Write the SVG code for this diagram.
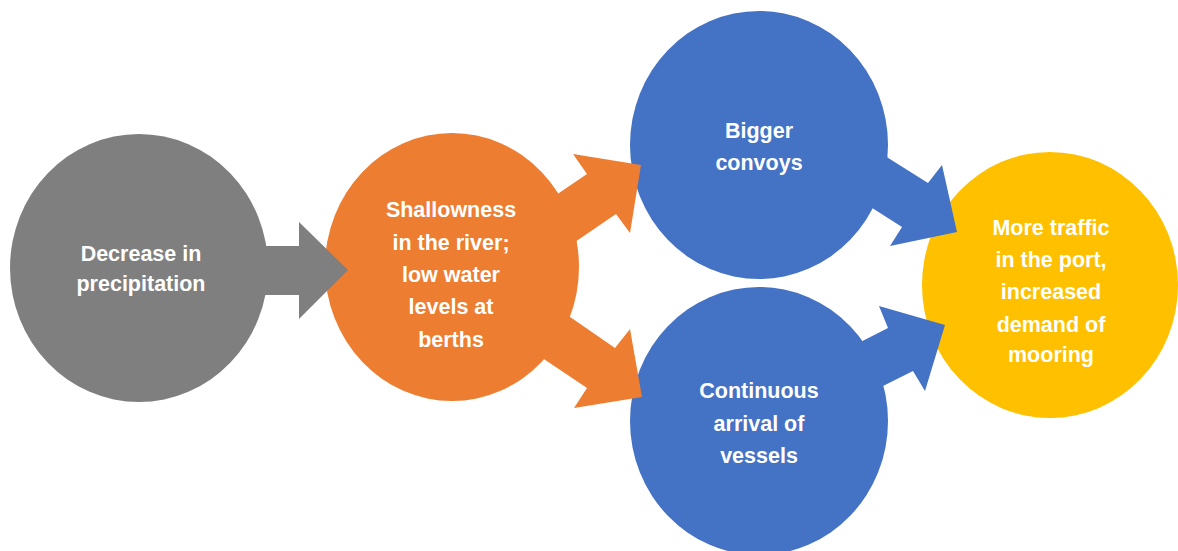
<svg xmlns="http://www.w3.org/2000/svg" width="1178" height="551" viewBox="0 0 1178 551">
  <style>
    .lbl { font-family: "Liberation Sans", Arial, sans-serif; font-weight: bold; font-size: 21.5px; fill: #FFFFFF; text-anchor: middle; }
    .gray { fill: #7F7F7F; }
    .orange { fill: #ED7D31; }
    .blue { fill: #4472C4; }
    .yellow { fill: #FFC000; }
  </style>
  <rect width="1178" height="551" fill="#FFFFFF"/>

  <g id="node-precipitation">
    <ellipse class="gray" cx="139" cy="268" rx="129" ry="134"/>
    <text class="lbl" x="141" y="261">Decrease in</text>
    <text class="lbl" x="141" y="291">precipitation</text>
  </g>

  <g id="node-shallowness">
    <ellipse class="orange" cx="452" cy="267" rx="127" ry="134"/>
    <text class="lbl" x="451" y="217">Shallowness</text>
    <text class="lbl" x="451" y="250">in the river;</text>
    <text class="lbl" x="451" y="282">low water</text>
    <text class="lbl" x="451" y="314">levels at</text>
    <text class="lbl" x="451" y="347">berths</text>
  </g>

  <g id="node-convoys">
    <ellipse class="blue" cx="759" cy="145" rx="129" ry="134"/>
    <text class="lbl" x="759" y="138">Bigger</text>
    <text class="lbl" x="759" y="170">convoys</text>
  </g>

  <g id="node-arrival">
    <ellipse class="blue" cx="759" cy="421" rx="129" ry="134"/>
    <text class="lbl" x="759" y="398">Continuous</text>
    <text class="lbl" x="759" y="431">arrival of</text>
    <text class="lbl" x="759" y="463">vessels</text>
  </g>

  <g id="node-traffic">
    <ellipse class="yellow" cx="1050" cy="285" rx="128" ry="133"/>
    <text class="lbl" x="1051" y="235">More traffic</text>
    <text class="lbl" x="1051" y="267">in the port,</text>
    <text class="lbl" x="1051" y="299">increased</text>
    <text class="lbl" x="1051" y="332">demand of</text>
    <text class="lbl" x="1051" y="362">mooring</text>
  </g>

  <g id="connectors">
    <polygon class="gray" points="250,246 299,246 299,222 348,270 299,319 299,295 250,295"/>
    <polygon class="orange" points="534,210 587,174 573,154 641,165 630,233 616,214 553,257"/>
    <polygon class="orange" points="547,301 615,348 630,329 642,397 574,408 587,388 520,343"/>
    <polygon class="blue" points="858,139 928,183 942,165 957,232 890,246 902,227 844,190"/>
    <polygon class="blue" points="833,356 888,328 879,306 945,325 925,391 913,371 853,401"/>
  </g>
</svg>
